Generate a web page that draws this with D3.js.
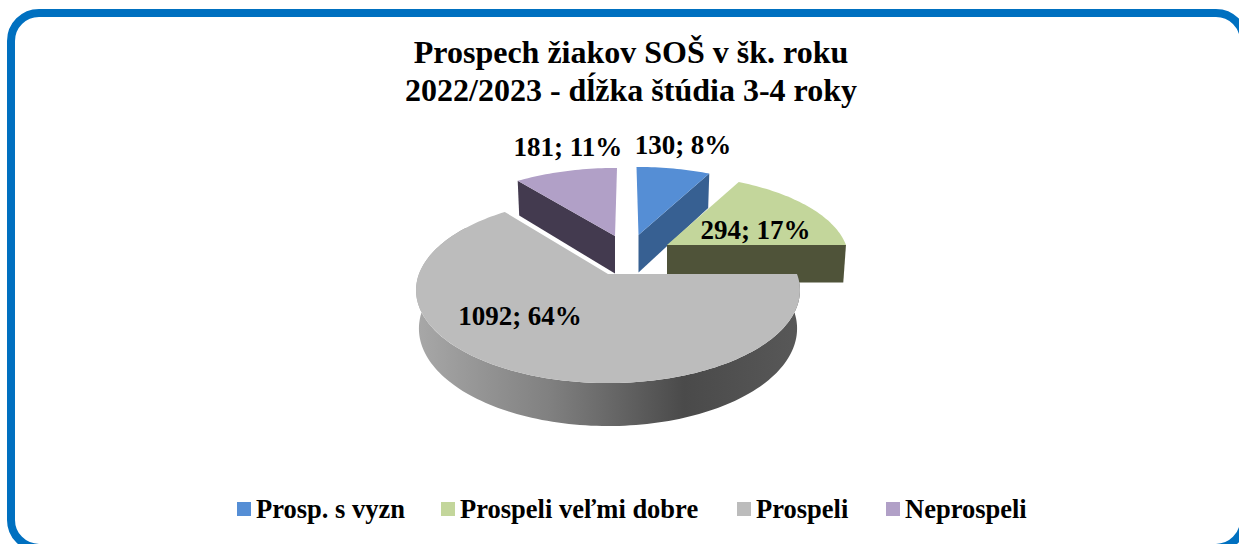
<!DOCTYPE html>
<html><head><meta charset="utf-8">
<style>html,body{margin:0;padding:0;background:#fff;overflow:hidden}svg{display:block}text{font-family:"Liberation Serif",serif;font-weight:bold;fill:#000}</style>
<script src="https://cdn.jsdelivr.net/npm/d3@7"></script>
</head><body><script>
const categories=["Prosp. s vyzn","Prospeli veľmi dobre","Prospeli","Neprospeli"];
const values=[130,294,1092,181];
const percents=[8,17,64,11];
const topColors=["#558ed5","#c3d69b","#bcbcbc","#b1a0c7"];
const wallColors=["#376092","#4f5339","#808080","#433a4f"];
const titleLines=["Prospech žiakov SOŠ v šk. roku","2022/2023 - dĺžka štúdia 3-4 roky"];
const layout=[
 {cx:638.5,cy:235,rx:181,ry:80,lean:-2},
 {cx:667,cy:245,rx:179,ry:82,lean:0},
 {cx:608,cy:274,rx:189,ry:90,lean:0},
 {cx:615,cy:236,rx:181,ry:80,lean:2}
];
const labelPos=[[683,154],[755.5,239],[520,325],[568,156]];
const legendX=[237,441,737,886];
const p=0.175,depth=37.5,bx=0.985,by=1.05;
const W=1239,H=544;
const svg=d3.select("body").append("svg").attr("width",W).attr("height",H);
const defs=svg.append("defs");
const g=defs.append("linearGradient").attr("id","wall").attr("gradientUnits","userSpaceOnUse").attr("x1",416).attr("x2",799).attr("y1",0).attr("y2",0);
[[0,"#a8a8a8"],[0.35,"#808080"],[0.7,"#4a4a4a"],[1,"#585858"]].forEach(s=>g.append("stop").attr("offset",s[0]).attr("stop-color",s[1]));

// frame
svg.append("rect").attr("x",11).attr("y",13).attr("width",1233).attr("height",534.9).attr("rx",28).attr("fill","#fff").attr("stroke","#0070c0").attr("stroke-width",8);

titleLines.forEach((t,i)=>svg.append("text").attr("x",631).attr("y",62.5+i*38).attr("text-anchor","middle").attr("font-size",32).text(t));

const arcs=d3.pie().sort(null).value(d=>d)(values);
function proj(a,L,bottom){
  const u=Math.sin(a),v=Math.cos(a),w=1+p*v;
  const sx=bottom?bx:1,sy=bottom?by:1,dy=bottom?depth:0;
  return [L.cx+L.lean*v+sx*L.rx*u/w, L.cy+dy-sy*L.ry*v/w];
}
const line=d3.line();
function samples(a0,a1){const n=Math.max(2,Math.ceil(Math.abs(a1-a0)*40));return d3.range(n+1).map(i=>a0+(a1-a0)*i/n);}
function topFace(d,L){return line([[L.cx,L.cy],...samples(d.startAngle,d.endAngle).map(a=>proj(a,L,false))])+"Z";}
function cutWall(a,L){return line([[L.cx,L.cy],proj(a,L,false),proj(a,L,true),[L.cx,L.cy+depth]])+"Z";}
function rimWall(a0,a1,L){const s=samples(a0,a1);return line([...s.map(a=>proj(a,L,false)),...s.reverse().map(a=>proj(a,L,true))])+"Z";}

const order=[3,0,1,2];
order.forEach(i=>{
  const d=arcs[i],L=layout[i];
  if(i===2){
    svg.append("path").attr("d",rimWall(d.startAngle,d.endAngle-0.3,L)).attr("fill","url(#wall)");
  } else {
    const a=i===3?d.startAngle:d.endAngle;
    svg.append("path").attr("d",cutWall(a,L)).attr("fill",wallColors[i]);
  }
  svg.append("path").attr("d",topFace(d,L)).attr("fill",topColors[i]);
});

values.forEach((v,i)=>svg.append("text").attr("x",labelPos[i][0]).attr("y",labelPos[i][1]).attr("text-anchor","middle").attr("font-size",27).text(v+"; "+percents[i]+"%"));

categories.forEach((c,i)=>{
  svg.append("rect").attr("x",legendX[i]).attr("y",502).attr("width",14).attr("height",14).attr("fill",topColors[i]);
  svg.append("text").attr("x",legendX[i]+19).attr("y",518).attr("font-size",26.5).text(c);
});
</script></body></html>
